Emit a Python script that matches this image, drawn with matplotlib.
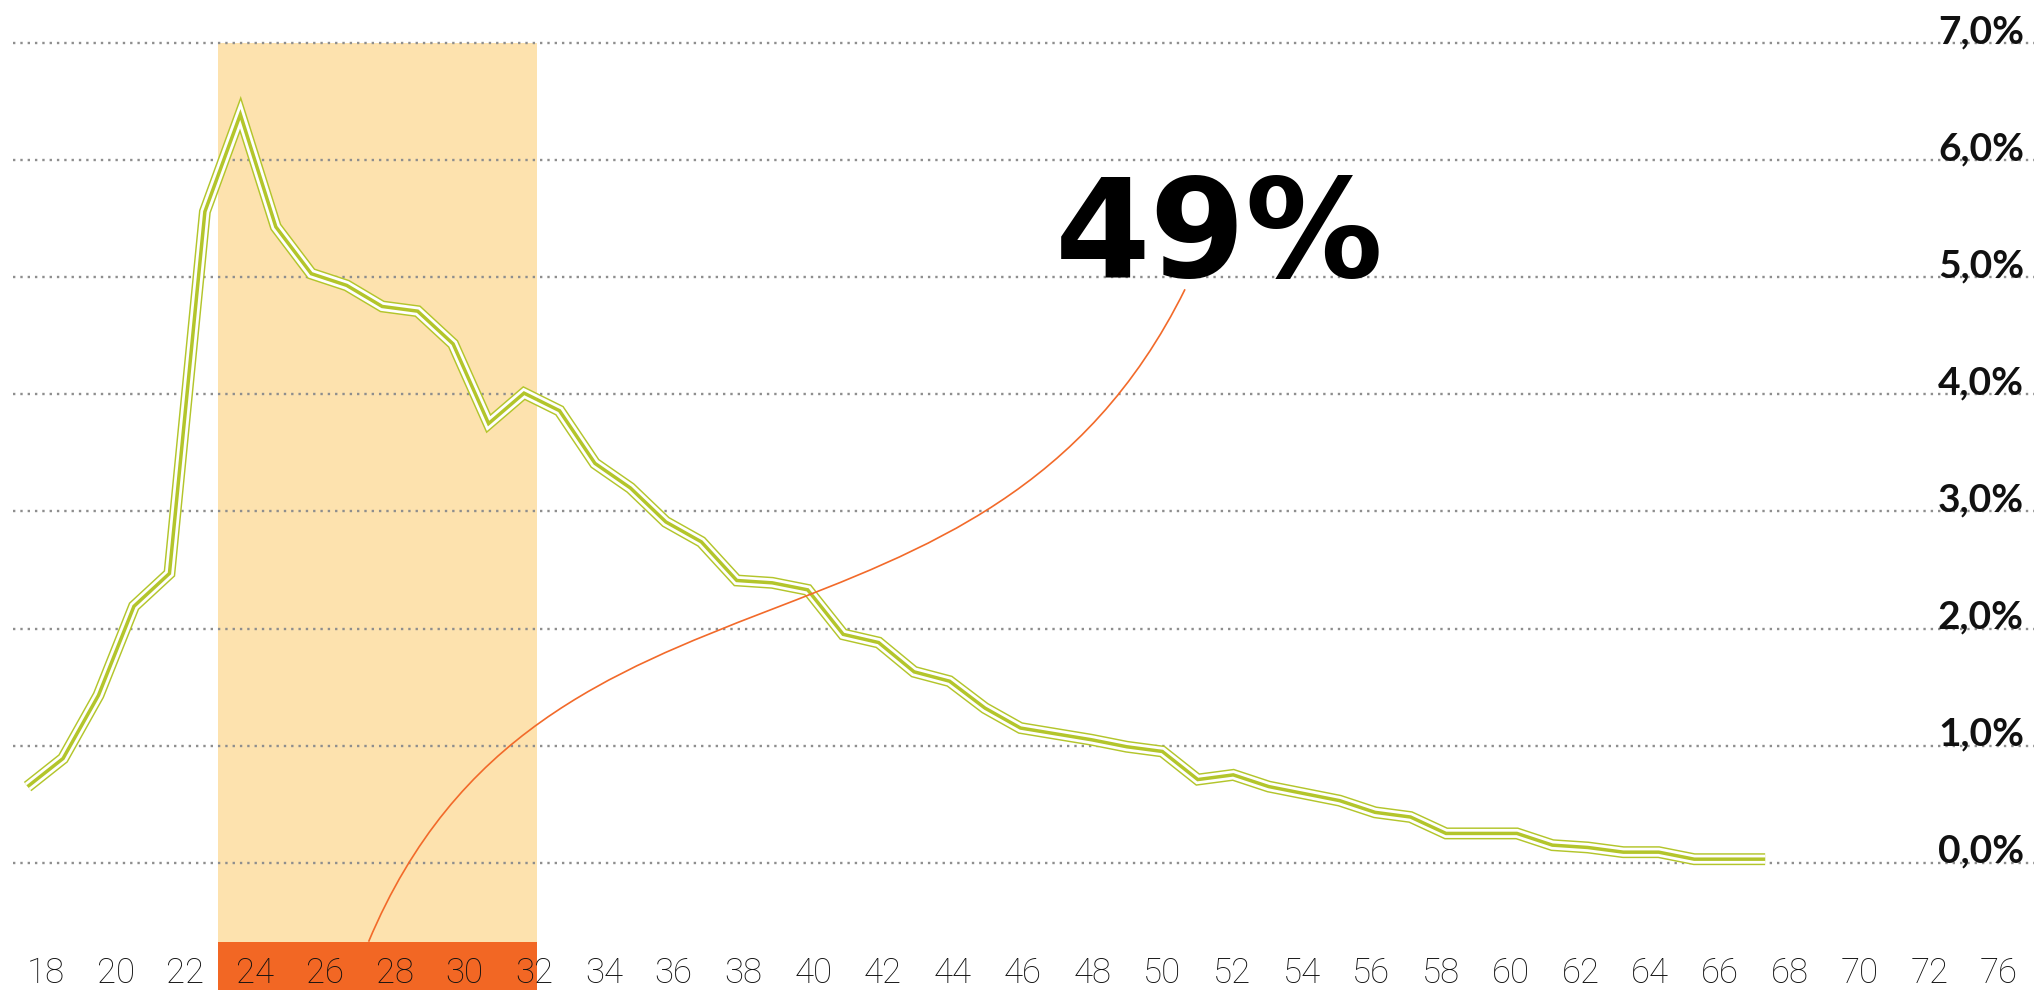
import matplotlib
matplotlib.use("Agg")
from matplotlib import pyplot as plt
from matplotlib.path import Path
from matplotlib.patches import PathPatch, Rectangle

# share of people per age (percent)
ages = list(range(18, 68))
share = [0.65, 0.89, 1.43, 2.19, 2.47,
         5.56, 6.39, 5.43, 5.03, 4.93,
         4.75, 4.71, 4.43, 3.75, 4.01,
         3.86, 3.41, 3.20, 2.91, 2.74,
         2.41, 2.39, 2.33, 1.95, 1.88,
         1.63, 1.55, 1.32, 1.15, 1.10,
         1.05, 0.99, 0.95, 0.71, 0.75,
         0.65, 0.59, 0.53, 0.43, 0.39,
         0.25, 0.25, 0.25, 0.15, 0.13,
         0.09, 0.09, 0.03, 0.03, 0.03]

x_labels = ['18', '20', '22', '24', '26', '28', '30', '32', '34', '36', '38',
            '40', '42', '44', '46', '48', '50', '52', '54', '56', '58', '60',
            '62', '64', '66', '68', '70', '72', '76']
y_ticks = [0, 1, 2, 3, 4, 5, 6, 7]
y_labels = ['0,0%', '1,0%', '2,0%', '3,0%', '4,0%', '5,0%', '6,0%', '7,0%']
highlight_text = '49%'

W, H = 2034, 990
GREEN = '#b3c52b'
ORANGE = '#f26724'
LIGHT = '#fde2ae'

# pixel layout of the original
px_year, px_x0 = 35.46, 27.6
px_pct, px_y0 = 117.1, 862.7


def px_x(px):
    return ages[0] + (px - px_x0) / px_year


def px_y(py):
    return (px_y0 - py) / px_pct


fig = plt.figure(figsize=(W / 100, H / 100), dpi=100)
ax = fig.add_axes([0, 0, 1, 1])
ax.set_xlim(px_x(0), px_x(W))
ax.set_ylim(px_y(H), px_y(0))
ax.set_axis_off()

# highlighted age band
bx0, bx1 = px_x(218), px_x(537)
ax.add_patch(Rectangle((bx0, px_y(942)), bx1 - bx0, y_ticks[-1] - px_y(942),
                       facecolor=LIGHT, edgecolor='none', zorder=0))
ax.add_patch(Rectangle((bx0, px_y(H)), bx1 - bx0, px_y(942) - px_y(H),
                       facecolor=ORANGE, edgecolor='none', zorder=0))

# dotted grid + right labels
for v, lab in zip(y_ticks, y_labels):
    ax.axhline(v, xmin=13 / W, xmax=1, color='#8e8e8e', lw=1.7,
               dashes=(1, 2.1), zorder=1)
    ax.text(px_x(2024), v, lab, ha='right', va='baseline', fontsize=28,
            family='Lato', fontweight='bold', color='#111111', zorder=5)

# double-outlined line
ax.plot(ages, share, color=GREEN, lw=8.6, solid_joinstyle='miter',
        solid_capstyle='butt', zorder=3)
ax.plot(ages, share, color='white', lw=6.5, solid_joinstyle='miter',
        solid_capstyle='butt', zorder=3)
ax.plot(ages, share, color=GREEN, lw=2.5, solid_joinstyle='miter',
        solid_capstyle='butt', zorder=3)

# x labels
for i, lab in enumerate(x_labels):
    xpos = px_x(46 + i * 69.75)
    ax.text(xpos, px_y(983), lab, ha='center', va='baseline', fontsize=25,
            family=['Roboto', 'DejaVu Sans'], fontweight='light',
            color='#111111', zorder=5)

# big annotation and connector
ax.text(px_x(1219), px_y(276.7), highlight_text, ha='center', va='baseline',
        fontsize=99, family='DejaVu Sans', fontweight='bold', color='black',
        zorder=5)
pts = [(368.6, 941.7), (542.8, 526.6), (985.6, 692.5), (1185, 289.3)]
curve = Path([(px_x(a), px_y(b)) for a, b in pts],
             [Path.MOVETO, Path.CURVE4, Path.CURVE4, Path.CURVE4])
ax.add_patch(PathPatch(curve, facecolor='none', edgecolor='#f26a2a', lw=1.2,
                       zorder=4))

fig.savefig('out.png', dpi=100)
